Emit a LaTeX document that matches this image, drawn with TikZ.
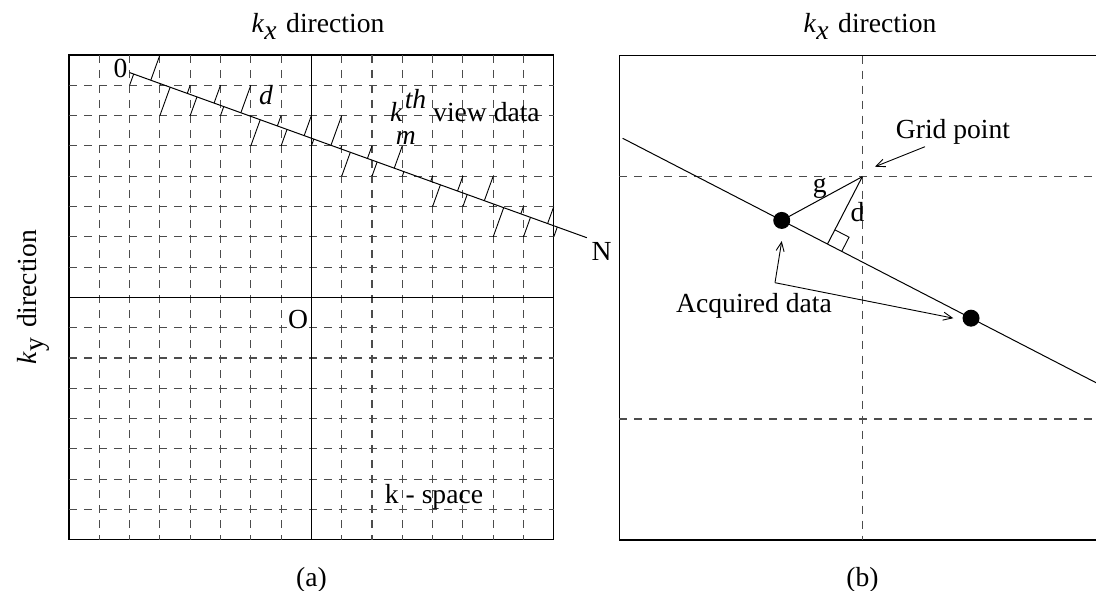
\documentclass[tikz,border=0pt]{standalone}
\usepackage{fontspec}
\setmainfont{Liberation Serif}
\usetikzlibrary{arrows.meta, calc}

\begin{document}
\begin{tikzpicture}[
    x=1pt, y=-1pt,
    every node/.style={font=\fontsize{27.6}{33}\selectfont, inner sep=0pt},
    % Estilo para la rejilla punteada (gris)
    rejilla/.style={black!70, line width=1.15pt, dash pattern=on 8pt off 7pt},
    % Estilo para los marcos
    marco/.style={line width=1.3pt},
    % Estilo para la trayectoria y los ejes
    trayectoria/.style={line width=1pt},
    % Estilo para las distancias perpendiculares
    perpTick/.style={line width=0.9pt},
    % Estilo para las flechas de las etiquetas
    flechaDato/.style={line width=0.9pt, -{Straight Barb[length=9pt, width=8pt]}},
    % Estilo para los datos adquiridos
    punto/.style={circle, fill, minimum size=17pt}
]
    \useasboundingbox (0,0) rectangle (1096,591);

    % --- PARAMETERS ---
    \def\celda{30.3}
    \def\xA{69}
    \def\yA{55}

    % 1. Frame (a)
    \draw[marco] (\xA,\yA) rectangle ++(16*\celda,16*\celda);

    % 2. Grid (a)
    \foreach \k in {1,...,7,9,10,...,15}{
        \draw[rejilla] (\xA+\k*\celda,\yA) -- ++(0,16*\celda);
        \draw[rejilla] (\xA,\yA+\k*\celda) -- ++(16*\celda,0);
    }
    \draw[trayectoria] (\xA+8*\celda,\yA) -- ++(0,16*\celda);
    \draw[trayectoria] (\xA,\yA+8*\celda) -- ++(16*\celda,0);

    % 3. View line
    \coordinate (L0) at (\xA+2*\celda, \yA+0.58*\celda);
    \coordinate (L1) at (\xA+17.09*\celda, \yA+6.03*\celda);
    \draw[trayectoria] (L0) -- (L1);

    % 4. Distances d from the grid points
    \foreach \i in {2,...,16}{
        \foreach \j in {0,...,7}{
            \pgfmathsetmacro{\dif}{abs(\j-0.58-0.361*(\i-2))}
            \pgfmathsetmacro{\tpar}{(\i-2)+(\j-0.58)*0.361}
            \pgfmathtruncatemacro{\ok}{(\dif<1.15)&&(\tpar>0)}
            \ifnum\ok=1
                \coordinate (P) at (\xA+\i*\celda,\yA+\j*\celda);
                \draw[perpTick] (P) -- ($(L0)!(P)!(L1)$);
            \fi
        }
    }

    % 5. Labels (a)
    \node[anchor=base] (kxA) at (318,33) {\textit{k}\raisebox{-0.25em}{\textit{x}}\hspace{0.1em} direction};
    \node[rotate=90] (ky) at (33,297) {\textit{k}\raisebox{-0.25em}{y}\hspace{0.1em} direction};
    \node[anchor=base] (cero) at (120.5,78) {0};
    \node[anchor=base] (fin) at (601.7,260) {N};
    \node[anchor=base] (origen) at (298,328) {O};
    \node[anchor=base] (dA) at (266,105) {\textit{d}};
    \node[anchor=base west] (kmTxt) at (390,122)
        {\textit{k}\rlap{\hspace{0.07em}\raisebox{0.5em}{\textit{th}}}\hspace{-0.25em}\raisebox{-0.83em}{\textit{m}}};
    \node[anchor=base west] (vistaTxt) at (433,122) {view data};
    \node[anchor=base] (espacioK) at (434,503) {k - space};
    \node[anchor=base] (etqA) at (311.5,586) {(a)};

    % 6. Frame (b)
    \draw[marco] (1096,55.7) -| (619.3,540) -- (1096,540);
    \draw[rejilla] (862.3,55.7) -- (862.3,540);
    \draw[rejilla] (619.3,176.7) -- (1096,176.7);
    \draw[rejilla] (619.3,419) -- (1096,419);

    % 7. Line, grid point and acquired data
    \coordinate (B0) at (622.7,138.3);
    \coordinate (B1) at (1096,382.7);
    \draw[trayectoria] (B0) -- (B1);
    \coordinate (G) at (862.3,176.7);
    \coordinate (F) at ($(B0)!(G)!(B1)$);
    \node[punto] (datoA) at ($(B0)!0.336!(B1)$) {};
    \node[punto] (datoB) at ($(B0)!0.736!(B1)$) {};
    \draw[trayectoria] (datoA.center) -- (G);
    \draw[trayectoria] (G) -- (F);
    \coordinate (R1) at ($(F)!16pt!(B1)$);
    \coordinate (R3) at ($(F)!16pt!(G)$);
    \draw[perpTick] (R1) -- ($(R1)+(R3)-(F)$) -- (R3);

    % 8. Labels (b)
    \node[anchor=base] (kxB) at (870,33) {\textit{k}\raisebox{-0.25em}{\textit{x}}\hspace{0.1em} direction};
    \node[anchor=base] (gTxt) at (819.7,192.4) {g};
    \node[anchor=base] (dB) at (857.5,222) {d};
    \node[anchor=base] (gridTxt) at (953,138.7) {Grid point};
    \coordinate (gridCola) at (925,146.7);
    \coordinate (gridPunta) at (875,166.7);
    \draw[flechaDato] (gridCola) -- (gridPunta);
    \node[anchor=base] (adqTxt) at (754,312) {Acquired data};
    \coordinate (codo) at (775,282.7);
    \draw[flechaDato] (codo) -- ($(datoA.south)+(0,12)$);
    \draw[flechaDato] (codo) -- ($(datoB.west)+(-9,0)$);
    \node[anchor=base] (etqB) at (862.5,586) {(b)};
\end{tikzpicture}
\end{document}
